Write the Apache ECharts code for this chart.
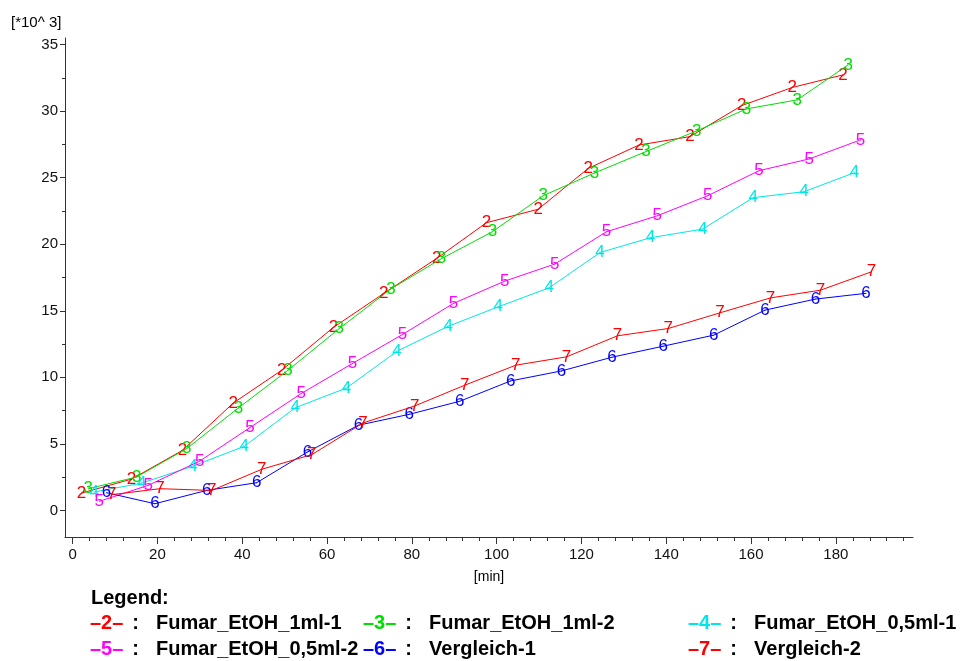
<!DOCTYPE html>
<html>
<head>
<meta charset="utf-8">
<script src="https://cdn.jsdelivr.net/npm/echarts@6/dist/echarts.min.js"></script>
<style>
  html, body { margin: 0; padding: 0; background: #fff; }
  #chart { width: 961px; height: 661px; }
</style>
</head>
<body>
<div id="chart"></div>
<script>
// Sample names and the digit used to mark each one on the plot
const seriesNames = ['Fumar_EtOH_1ml-1', 'Fumar_EtOH_1ml-2', 'Fumar_EtOH_0,5ml-1',
                     'Fumar_EtOH_0,5ml-2', 'Vergleich-1', 'Vergleich-2'];
const seriesMarks = ['2', '3', '4', '5', '6', '7'];

// Measurement times [min] per sample
const time2 = [2.1, 13.9, 25.9, 37.9, 49.3, 61.5, 73.4, 85.9, 97.6, 109.8, 121.6, 133.6, 145.6, 157.8, 169.7, 181.7];
const time3 = [3.7, 15.1, 26.9, 39.1, 50.8, 62.9, 75.1, 87.0, 99.0, 111.0, 123.1, 135.2, 147.2, 158.9, 170.9, 182.9];
const time4 = [5.1, 16.3, 28.4, 40.5, 52.5, 64.6, 76.5, 88.6, 100.4, 112.4, 124.4, 136.3, 148.6, 160.5, 172.5, 184.4];
const time5 = [6.3, 17.8, 30.0, 41.8, 53.9, 66.0, 77.8, 89.8, 101.9, 113.7, 125.9, 137.9, 149.8, 161.9, 173.7, 185.8];
const time6 = [8.0, 19.4, 31.6, 43.4, 55.4, 67.4, 79.4, 91.3, 103.3, 115.3, 127.2, 139.3, 151.2, 163.3, 175.2, 187.1];
const time7 = [9.2, 20.6, 32.8, 44.6, 56.4, 68.5, 80.7, 92.5, 104.5, 116.5, 128.5, 140.5, 152.7, 164.6, 176.4, 188.4];

// Signal values [*10^3]
const value2 = [1.30, 2.35, 4.51, 8.07, 10.53, 13.75, 16.31, 18.94, 21.62, 22.63, 25.70, 27.46, 28.09, 30.42, 31.78, 32.73];
const value3 = [1.63, 2.51, 4.64, 7.70, 10.53, 13.67, 16.65, 18.92, 20.94, 23.65, 25.36, 26.96, 28.52, 30.17, 30.85, 33.48];
const value4 = [1.38, 2.05, 3.33, 4.82, 7.71, 9.20, 11.96, 13.84, 15.30, 16.73, 19.38, 20.49, 21.14, 23.50, 23.95, 25.38];
const value5 = [0.68, 1.88, 3.71, 6.22, 8.78, 11.04, 13.22, 15.55, 17.23, 18.51, 20.94, 22.14, 23.65, 25.53, 26.41, 27.84];
const value6 = [1.33, 0.50, 1.50, 2.08, 4.39, 6.40, 7.22, 8.20, 9.73, 10.48, 11.51, 12.34, 13.17, 15.05, 15.88, 16.31];
const value7 = [1.18, 1.63, 1.50, 3.09, 4.19, 6.57, 7.85, 9.41, 10.91, 11.54, 13.12, 13.67, 14.85, 15.97, 16.55, 17.93];

// Axis tick positions
const xMajorTicks = [0, 20, 40, 60, 80, 100, 120, 140, 160, 180];
const xMinorTicks = [4, 8, 12, 16, 24, 28, 32, 36, 44, 48, 52, 56, 64, 68, 72, 76, 84, 88, 92, 96,
                     104, 108, 112, 116, 124, 128, 132, 136, 144, 148, 152, 156, 164, 168, 172, 176,
                     184, 188, 192, 196];
const yMajorTicks = [0, 5, 10, 15, 20, 25, 30, 35];
const yMinorTicks = [2.5, 7.5, 12.5, 17.5, 22.5, 27.5, 32.5];

const times = [time2, time3, time4, time5, time6, time7];
const values = [value2, value3, value4, value5, value6, value7];
const colors = ['#ff0000', '#00dd00', '#00e6e6', '#ff00ff', '#0000ff', '#ff0000'];

const FONT = '"Liberation Sans", Arial, Helvetica, sans-serif';
const AXIS_COLOR = '#333';

const xRange = { min: -1.8, max: 198.2 };
const yRange = { min: -2, max: 35.5 };

function axisBase(range, showLine) {
  return {
    type: 'value',
    min: range.min,
    max: range.max,
    splitLine: { show: false },
    axisLine: { show: showLine, onZero: false, lineStyle: { color: AXIS_COLOR, width: 1 } }
  };
}

const series = seriesNames.map((name, i) => ({
  type: 'line',
  name: name,
  xAxisIndex: 0,
  yAxisIndex: 0,
  data: times[i].map((t, k) => [t, values[i][k]]),
  symbol: 'circle',
  symbolSize: 1,
  showAllSymbol: true,
  itemStyle: { color: colors[i] },
  lineStyle: { color: colors[i], width: 1 },
  label: {
    show: true,
    position: 'inside',
    formatter: seriesMarks[i],
    color: colors[i],
    fontFamily: FONT,
    fontSize: 17
  },
  emphasis: { disabled: true },
  z: 2 + i
}));

// Legend block: coloured "-n-" marker, colon, then the sample name
const legendCols = [90, 363, 688];
const legendRows = [613, 639];
const LEGEND_FONT = 'bold 20px ' + FONT;
const legendItems = seriesNames.map((name, i) => ({
  type: 'text',
  left: legendCols[i % 3],
  top: legendRows[Math.floor(i / 3)],
  style: {
    text: '{m|\u2013' + seriesMarks[i] + '\u2013}{c|:}{t|' + name + '}',
    rich: {
      m: { fill: colors[i], font: LEGEND_FONT },
      c: { fill: '#000', font: LEGEND_FONT, padding: [0, 17, 0, 9] },
      t: { fill: '#000', font: LEGEND_FONT }
    }
  }
}));

const option = {
  animation: false,
  backgroundColor: '#ffffff',
  grid: { left: 65, right: 48, top: 38, bottom: 124, containLabel: false },
  xAxis: [
    Object.assign(axisBase(xRange, true), {
      position: 'bottom',
      name: '[min]',
      nameLocation: 'middle',
      nameGap: 33,
      nameTextStyle: { color: '#000', fontFamily: FONT, fontSize: 14 },
      axisTick: { show: true, length: 7, customValues: xMajorTicks, lineStyle: { color: AXIS_COLOR } },
      axisLabel: { show: true, customValues: xMajorTicks, margin: 10, color: '#111', fontFamily: FONT, fontSize: 15 }
    }),
    Object.assign(axisBase(xRange, false), {
      position: 'bottom',
      axisTick: { show: true, length: 4, customValues: xMinorTicks, lineStyle: { color: AXIS_COLOR } },
      axisLabel: { show: false }
    })
  ],
  yAxis: [
    Object.assign(axisBase(yRange, true), {
      position: 'left',
      axisTick: { show: true, length: 5, customValues: yMajorTicks, lineStyle: { color: AXIS_COLOR } },
      axisLabel: { show: true, customValues: yMajorTicks, margin: 7, color: '#111', fontFamily: FONT, fontSize: 15 }
    }),
    Object.assign(axisBase(yRange, false), {
      position: 'left',
      axisTick: { show: true, length: 3, customValues: yMinorTicks, lineStyle: { color: AXIS_COLOR } },
      axisLabel: { show: false }
    })
  ],
  graphic: [
    {
      type: 'text', left: 11, top: 15,
      style: { text: '[*10^ 3]', fill: '#000', font: '15px ' + FONT }
    },
    {
      type: 'text', left: 91, top: 588,
      style: { text: 'Legend:', fill: '#000', font: LEGEND_FONT }
    }
  ].concat(legendItems),
  series: series
};

const chart = echarts.init(document.getElementById('chart'), null, { renderer: 'canvas' });
chart.setOption(option);
</script>
</body>
</html>
